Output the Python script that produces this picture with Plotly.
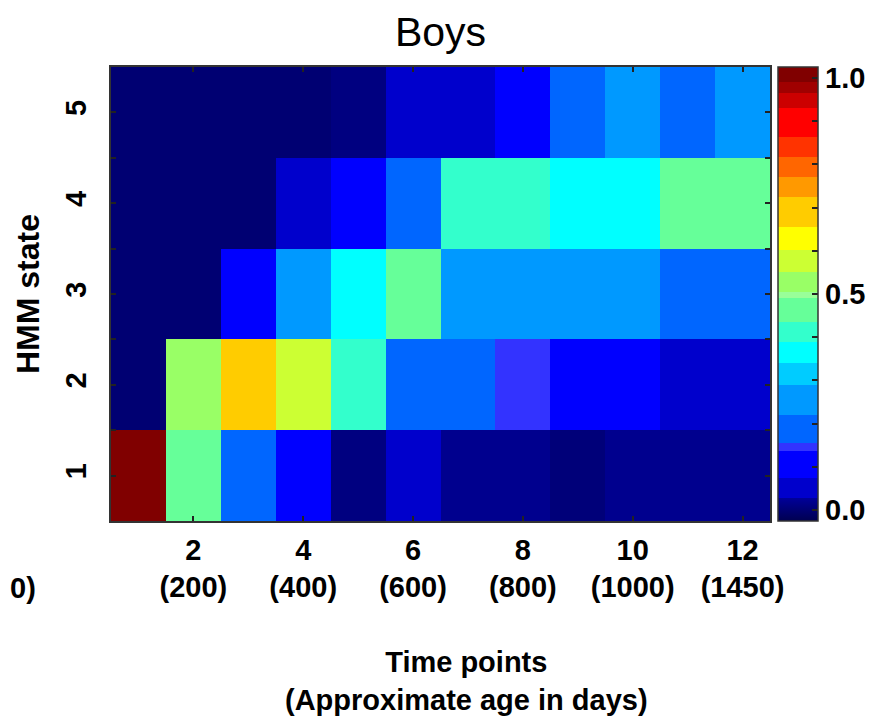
import plotly.graph_objects as go

# ---- data ----
time_points = list(range(1, 13))
states = [1, 2, 3, 4, 5]
state1 = [1.0, 0.46, 0.19, 0.10, 0.01, 0.05, 0.02, 0.02, 0.005, 0.02, 0.02, 0.02]
state2 = [0.0, 0.53, 0.69, 0.575, 0.41, 0.19, 0.19, 0.146, 0.10, 0.10, 0.05, 0.05]
state3 = [0.0, 0.0, 0.10, 0.255, 0.365, 0.46, 0.255, 0.255, 0.255, 0.255, 0.19, 0.19]
state4 = [0.0, 0.0, 0.0, 0.05, 0.10, 0.19, 0.41, 0.41, 0.365, 0.365, 0.46, 0.46]
state5 = [0.0, 0.0, 0.0, 0.0, 0.01, 0.05, 0.05, 0.10, 0.19, 0.255, 0.19, 0.255]
tick_points = [2, 4, 6, 8, 10, 12]
tick_ages = [200, 400, 600, 800, 1000, 1450]
cbar_ticks = [0.0, 0.5, 1.0]

z = [state1, state2, state3, state4, state5]

# ---- discrete jet-like colour scale ----
ZMIN, ZMAX = -0.025, 1.025
bands = [
    (-0.025, 0.028, "#000050", "#000099"),
    (0.028, 0.074, "#0000cc", None),
    (0.074, 0.137, "#0000ff", None),
    (0.137, 0.155, "#3333ff", None),
    (0.155, 0.220, "#0066ff", None),
    (0.220, 0.290, "#0099ff", None),
    (0.290, 0.340, "#00ccff", None),
    (0.340, 0.389, "#00ffff", None),
    (0.389, 0.435, "#33ffcc", None),
    (0.435, 0.491, "#66ff99", None),
    (0.491, 0.504, "#99ff99", None),
    (0.504, 0.551, "#99ff66", None),
    (0.551, 0.602, "#ccff33", None),
    (0.602, 0.655, "#ffff00", None),
    (0.655, 0.724, "#ffcc00", None),
    (0.724, 0.771, "#ff9900", None),
    (0.771, 0.817, "#ff6600", None),
    (0.817, 0.863, "#ff3300", None),
    (0.863, 0.930, "#ff0000", None),
    (0.930, 0.965, "#cc0000", None),
    (0.965, 0.990, "#a00000", None),
    (0.990, 1.025, "#800000", None),
]
def nf(v):
    return min(1.0, max(0.0, (v - ZMIN) / (ZMAX - ZMIN)))
colorscale = []
for a, b, c1, c2 in bands:
    colorscale.append([nf(a), c1])
    colorscale.append([nf(b), c2 if c2 else c1])

FONT = "Liberation Sans, Arial, Helvetica, sans-serif"
LBL = dict(family=FONT, size=29, color="black", weight="bold")

# page body adds an 8px offset; the figure is sized to compensate
W, H = 878, 716
ML, MT, MR, MB = 103, 59, 116, 203
PW, PH = W - ML - MR, H - MT - MB

fig = go.Figure(go.Heatmap(
    z=z, x=time_points, y=states,
    zmin=ZMIN, zmax=ZMAX, colorscale=colorscale,
    colorbar=dict(
        x=(778 - 8 - ML) / PW, xanchor="left", xref="paper", xpad=0, ypad=0,
        y=0.5, yanchor="middle", len=1.0, lenmode="fraction",
        thickness=40, outlinecolor="#333333", outlinewidth=1.5,
        tickmode="array",
        tickvals=[i / 10 for i in range(11)],
        ticktext=[f"{v:.1f}" if any(abs(v - t) < 1e-9 for t in cbar_ticks) else "" for v in [i / 10 for i in range(11)]],
        ticks="inside", ticklen=6, tickcolor="#222222", tickwidth=1.5,
        tickfont=LBL,
    ),
    hoverinfo="skip",
))

fig.update_xaxes(
    range=[0.5, 12.5], tickmode="array", tickvals=tick_points,
    ticktext=[f"{p}<br>({a})" for p, a in zip(tick_points, tick_ages)],
    ticks="inside", ticklen=5, tickwidth=1.5, tickcolor="#222222",
    showline=True, linecolor="#333333", linewidth=1.5, mirror="ticks",
    showgrid=False, zeroline=False, tickfont=LBL, ticklabelstandoff=2,
)
yt = [1 + 0.5 * i for i in range(9)]
fig.update_yaxes(
    range=[0.5, 5.5], tickmode="array", tickvals=yt,
    ticktext=[str(int(v)) if v == int(v) else "" for v in yt],
    tickangle=-90,
    ticks="inside", ticklen=5, tickwidth=1.5, tickcolor="#222222",
    showline=True, linecolor="#333333", linewidth=1.5, mirror="ticks",
    showgrid=False, zeroline=False, tickfont=LBL, ticklabelstandoff=12,
    title=dict(text="HMM state", font=dict(LBL, size=32), standoff=10),
)

fig.update_layout(
    width=W, height=H,
    margin=dict(l=ML, r=MR, t=MT, b=MB, autoexpand=False),
    paper_bgcolor="white", plot_bgcolor="white",
    title=dict(text="Boys", x=0.5, xref="paper", xanchor="center",
               y=1 - 24 / H, yref="container", yanchor="middle",
               font=dict(family=FONT, size=41, color="black")),
    annotations=[
        dict(text="Time points<br>(Approximate age in days)", xref="paper", yref="paper",
             x=(458 - ML) / PW, y=(PH + MT - 673) / PH, xanchor="center", yanchor="middle",
             showarrow=False, font=LBL),
        dict(text="0)", xref="paper", yref="paper",
             x=(0 - ML) / PW, y=(PH + MT - 580) / PH, xanchor="left", yanchor="middle",
             showarrow=False, font=LBL),
    ],
)

fig.write_html("out.html")
